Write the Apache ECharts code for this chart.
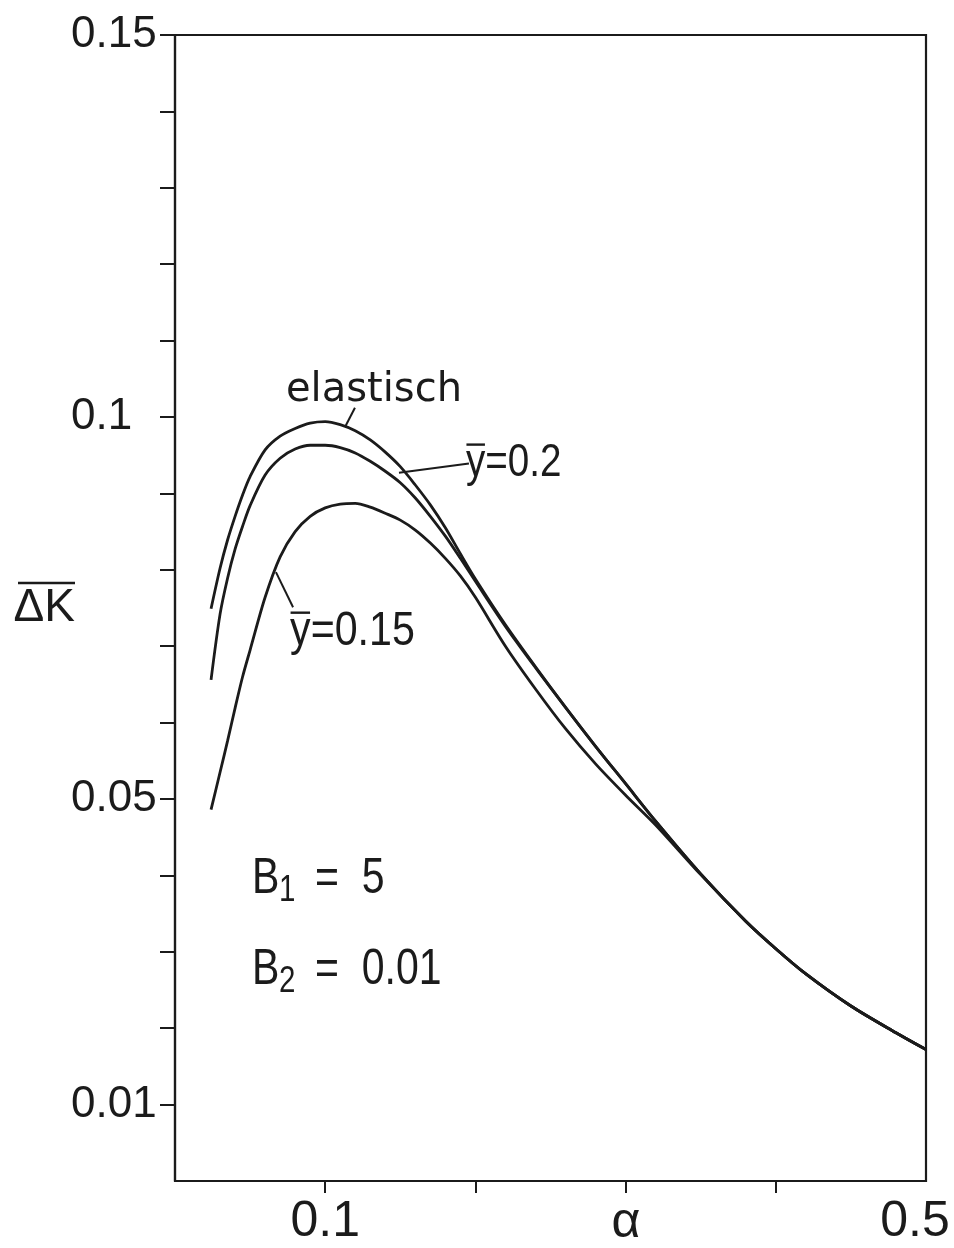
<!DOCTYPE html>
<html>
<head>
<meta charset="utf-8">
<script src="https://cdn.jsdelivr.net/npm/echarts@6/dist/echarts.min.js"></script>
<style>
  html, body { margin: 0; padding: 0; background: #ffffff; }
  #chart { width: 954px; height: 1248px; }
</style>
</head>
<body>
<div id="chart"></div>
<script>
// alpha values at which the three curves are sampled
const alpha = [0.024, 0.03, 0.035, 0.04, 0.045, 0.05, 0.06, 0.07, 0.08, 0.09,
               0.10, 0.11, 0.12, 0.13, 0.14, 0.15, 0.16, 0.17, 0.18, 0.19,
               0.20, 0.22, 0.24, 0.26, 0.28, 0.30, 0.32, 0.35, 0.38, 0.40,
               0.42, 0.45, 0.48, 0.50];

// mean Delta K, elastic case
const elastisch = [0.0749, 0.0802, 0.0839, 0.0870, 0.0898, 0.0922, 0.0957, 0.0975, 0.0985, 0.0992,
                   0.0994, 0.0990, 0.0982, 0.0970, 0.0954, 0.0935, 0.0911, 0.0885, 0.0855, 0.0821,
                   0.0788, 0.0728, 0.0673, 0.0620, 0.0569, 0.0520, 0.0471, 0.0402, 0.0340, 0.0304,
                   0.0271, 0.0229, 0.0194, 0.0172];

// mean Delta K for y = 0.2
const yBar020 = [0.0656, 0.0742, 0.0789, 0.0827, 0.0857, 0.0884, 0.0924, 0.0946, 0.0958, 0.0963,
                 0.0963, 0.0960, 0.0953, 0.0942, 0.0929, 0.0914, 0.0894, 0.0870, 0.0844, 0.0815,
                 0.0785, 0.0726, 0.0672, 0.0620, 0.0569, 0.0520, 0.0471, 0.0402, 0.0340, 0.0304,
                 0.0271, 0.0229, 0.0194, 0.0172];

// mean Delta K for y = 0.15
const yBar015 = [0.0486, 0.0535, 0.0576, 0.0619, 0.0660, 0.0695, 0.0764, 0.0817, 0.0850, 0.0870,
                 0.0881, 0.0886, 0.0887, 0.0882, 0.0874, 0.0865, 0.0852, 0.0835, 0.0815, 0.0792,
                 0.0764, 0.0700, 0.0644, 0.0592, 0.0546, 0.0505, 0.0466, 0.0401, 0.0340, 0.0304,
                 0.0271, 0.0229, 0.0194, 0.0172];

// axis ticks and labels
const xTickValues = [0.1, 0.2, 0.3, 0.4];
const xLabelValues = [0.1, 0.5];
const xLabelText = ['0.1', '0.5'];
const yTickValues = [0.01, 0.02, 0.03, 0.04, 0.05, 0.06, 0.07, 0.08, 0.09, 0.10,
                     0.11, 0.12, 0.13, 0.14, 0.15];
const yLabelValues = [0.01, 0.05, 0.1, 0.15];
const yLabelText = ['0.01', '0.05', '0.1', '0.15'];

const INK = '#1b1b1b';
const SANS = "'Liberation Sans', Arimo, Arial, sans-serif";
const WIDE = "'DejaVu Sans', 'Liberation Sans', sans-serif";

function labelFor(v, values, texts) {
  for (let i = 0; i < values.length; i++) {
    if (Math.abs(v - values[i]) < 1e-9) return texts[i];
  }
  return '';
}

// the last alpha label sits at the frame corner, so it is nudged inwards
function xLabel(v) {
  const t = labelFor(v, xLabelValues, xLabelText);
  return Math.abs(v - xLabelValues[xLabelValues.length - 1]) < 1e-9 ? '{edge|' + t + '}' : t;
}

function curve(name, values) {
  return {
    name: name,
    type: 'line',
    data: alpha.map((a, i) => [a, values[i]]),
    showSymbol: false,
    smooth: 0.3,
    silent: true,
    lineStyle: { color: INK, width: 2.8 },
    z: 3
  };
}

const chart = echarts.init(document.getElementById('chart'), null, { renderer: 'canvas' });

chart.setOption({
  animation: false,
  backgroundColor: '#ffffff',
  grid: {
    left: 175, right: 28, top: 35, bottom: 67,
    outerBoundsMode: 'none', containLabel: false,
    show: true, borderColor: INK, borderWidth: 2.2, backgroundColor: 'transparent'
  },
  xAxis: {
    type: 'value', min: 0, max: 0.5, interval: 0.1,
    name: 'α', nameLocation: 'middle', nameGap: 17, nameMoveOverlap: false,
    nameTextStyle: { fontFamily: SANS, fontSize: 50, color: INK, padding: [0, 0, 0, 151] },
    axisLine: { show: true, onZero: false, lineStyle: { color: INK, width: 2.2 } },
    axisTick: { show: true, inside: false, length: 12, customValues: xTickValues,
                lineStyle: { color: INK, width: 2 } },
    axisLabel: { show: true, customValues: xLabelValues, formatter: xLabel,
                 fontFamily: SANS, fontSize: 50, color: INK, margin: 16,
                 rich: { edge: { fontFamily: SANS, fontSize: 50, color: INK, padding: [0, 22, 0, 0] } } },
    splitLine: { show: false }
  },
  yAxis: {
    type: 'value', min: 0, max: 0.15, interval: 0.01,
    name: 'ΔK', nameLocation: 'middle', nameRotate: 0, nameGap: 100, nameMoveOverlap: false,
    nameTextStyle: { fontFamily: SANS, fontSize: 46, color: INK, align: 'right', verticalAlign: 'middle' },
    axisLine: { show: true, onZero: false, lineStyle: { color: INK, width: 2.2 } },
    axisTick: { show: true, inside: false, length: 15, customValues: yTickValues,
                lineStyle: { color: INK, width: 2 } },
    axisLabel: { show: true, customValues: yLabelValues,
                 formatter: v => labelFor(v, yLabelValues, yLabelText),
                 align: 'left', margin: 104,
                 fontFamily: SANS, fontSize: 44, color: INK },
    splitLine: { show: false }
  },
  series: [
    curve('elastisch', elastisch),
    curve('y=0.2', yBar020),
    curve('y=0.15', yBar015)
  ]
});

// annotations, anchored in data space (left edge, vertical middle)
const toPx = p => chart.convertToPixel({ gridIndex: 0 }, p);

const notes = [
  { text: 'elastisch', at: [0.0739, 0.1035], font: WIDE, size: 40, sx: 1 },
  { text: 'y=0.2', at: [0.1937, 0.0939], font: SANS, size: 46, sx: 0.84, bar: [0.5, 19, -19] },
  { text: 'y=0.15', at: [0.0766, 0.0719], font: SANS, size: 49, sx: 0.84, bar: [0.5, 20, -19] },
  { text: 'B', at: [0.0513, 0.0395], font: SANS, size: 50, sx: 0.82 },
  { text: '1', at: [0.0693, 0.0380], font: SANS, size: 36, sx: 0.82 },
  { text: '=  5', at: [0.0932, 0.0395], font: SANS, size: 50, sx: 0.82 },
  { text: 'B', at: [0.0513, 0.0276], font: SANS, size: 50, sx: 0.82 },
  { text: '2', at: [0.0693, 0.0261], font: SANS, size: 36, sx: 0.82 },
  { text: '=  0.01', at: [0.0932, 0.0276], font: SANS, size: 50, sx: 0.82 }
];

const leaders = [
  [[0.1132, 0.0987], [0.1198, 0.1012]],
  [[0.1491, 0.0927], [0.1957, 0.0939]],
  [[0.0672, 0.0797], [0.0786, 0.0751]]
];

const graphics = [];
notes.forEach(n => {
  const p = toPx(n.at);
  graphics.push({
    type: 'text', x: p[0], y: p[1], scaleX: n.sx, silent: true, z: 10,
    style: { text: n.text, fill: INK, font: n.size + 'px ' + n.font,
             align: 'left', verticalAlign: 'middle' }
  });
  if (n.bar) {
    graphics.push({
      type: 'line', silent: true, z: 10,
      shape: { x1: p[0] + n.bar[0], y1: p[1] + n.bar[2], x2: p[0] + n.bar[1], y2: p[1] + n.bar[2] },
      style: { stroke: INK, lineWidth: 2.4 }
    });
  }
});
leaders.forEach(l => {
  const a = toPx(l[0]), b = toPx(l[1]);
  graphics.push({
    type: 'line', silent: true, z: 10,
    shape: { x1: a[0], y1: a[1], x2: b[0], y2: b[1] },
    style: { stroke: INK, lineWidth: 2 }
  });
});

// overline of the vertical axis title, centred on the axis middle
const mid = toPx([0, 0.075]);
graphics.push({
  type: 'line', silent: true, z: 10,
  shape: { x1: mid[0] - 157, y1: mid[1] - 25, x2: mid[0] - 100, y2: mid[1] - 25 },
  style: { stroke: INK, lineWidth: 2.4 }
});

chart.setOption({ graphic: graphics });
</script>
</body>
</html>
